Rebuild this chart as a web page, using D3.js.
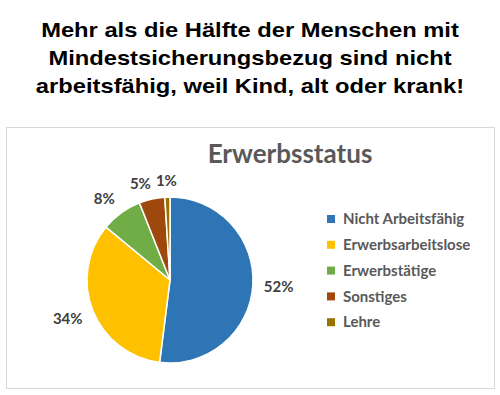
<!DOCTYPE html>
<html>
<head>
<meta charset="utf-8">
<script src="https://cdn.jsdelivr.net/npm/d3@7"></script>
<style>
  body { margin: 0; background: #fff; }
  svg { display: block; }
</style>
</head>
<body>
<div id="chart"></div>
<script>
// data
var categories = ['Nicht Arbeitsfähig', 'Erwerbsarbeitslose', 'Erwerbstätige', 'Sonstiges', 'Lehre'];
var values = [52, 34, 8, 5, 1];
var colors = ['#2E75B6', '#FFC000', '#70AD47', '#9E480E', '#997300'];
var headline = ['Mehr als die Hälfte der Menschen mit',
                'Mindestsicherungsbezug sind nicht',
                'arbeitsfähig, weil Kind, alt oder krank!'];
var chartTitle = 'Erwerbsstatus';

var W = 500, H = 395;
var CX = 170, CY = 280, R = 83;
var LABEL_FONT = 'Lato, "Open Sans", sans-serif';

var svg = d3.select('#chart').append('svg')
  .attr('width', W)
  .attr('height', H);

// headline (the source image is a bit stretched sideways)
svg.append('g')
  .attr('transform', 'translate(250,0) scale(1.13,1)')
  .selectAll('text')
  .data(headline)
  .enter().append('text')
    .attr('x', 0)
    .attr('y', function(d, i) { return 37 + i * 28; })
    .attr('text-anchor', 'middle')
    .attr('font-family', '"Liberation Sans", Arial, sans-serif')
    .attr('font-weight', 'bold')
    .attr('font-size', '21px')
    .attr('fill', '#000')
    .text(function(d) { return d; });

// chart frame
svg.append('rect')
  .attr('x', 6.5)
  .attr('y', 127.5)
  .attr('width', 488)
  .attr('height', 261)
  .attr('fill', '#fff')
  .attr('stroke', '#d9d9d9')
  .attr('stroke-width', 1);

svg.append('text')
  .attr('x', 290)
  .attr('y', 163)
  .attr('text-anchor', 'middle')
  .attr('font-family', LABEL_FONT)
  .attr('font-weight', 'bold')
  .attr('font-size', '26px')
  .attr('fill', '#595959')
  .text(chartTitle);

// pie
var pie = d3.pie().sort(null).value(function(d) { return d; });
var arcs = pie(values);
var arc = d3.arc().innerRadius(0).outerRadius(R);

var g = svg.append('g')
  .attr('transform', 'translate(' + CX + ',' + CY + ')');

g.selectAll('path')
  .data(arcs)
  .enter().append('path')
    .attr('d', arc)
    .attr('fill', function(d, i) { return colors[i]; })
    .attr('stroke', '#fff')
    .attr('stroke-width', 1.5);

// outside-end labels: box touches a point just past the rim
var labels = g.selectAll('text.lbl')
  .data(arcs)
  .enter().append('text')
    .attr('class', 'lbl')
    .attr('dy', '0.35em')
    .attr('text-anchor', 'middle')
    .attr('font-family', LABEL_FONT)
    .attr('font-weight', 'bold')
    .attr('font-size', '15px')
    .attr('fill', '#404040')
    .text(function(d) { return d.data + '%'; });

var GAP = 11, BOX_H = 10;
var pos = [];
labels.each(function(d) {
  var a = (d.startAngle + d.endAngle) / 2;
  var w = this.getComputedTextLength();
  var sx = Math.max(-1, Math.min(1, Math.sin(a) * 2));
  var sy = Math.max(-1, Math.min(1, -Math.cos(a) * 2));
  pos.push({
    x: Math.sin(a) * (R + GAP) + sx * w / 2,
    y: -Math.cos(a) * (R + GAP) + sy * BOX_H / 2,
    w: w
  });
});

// push neighbours apart when they collide (right to left)
for (var i = pos.length - 1; i > 0; i--) {
  var a = pos[i], b = pos[i - 1];
  var need = (a.w + b.w) / 2 + 5;
  if (Math.abs(a.y - b.y) < 14 && a.x - b.x < need) b.x = a.x - need;
}

labels
  .attr('x', function(d, i) { return pos[i].x; })
  .attr('y', function(d, i) { return pos[i].y; });

// legend
var legend = svg.append('g')
  .attr('transform', 'translate(327,219)');

var rows = legend.selectAll('g')
  .data(categories)
  .enter().append('g')
    .attr('transform', function(d, i) { return 'translate(0,' + (i * 25.8) + ')'; });

rows.append('rect')
  .attr('x', 0)
  .attr('y', -4)
  .attr('width', 8)
  .attr('height', 8)
  .attr('fill', function(d, i) { return colors[i]; });

rows.append('text')
  .attr('x', 16)
  .attr('y', 0)
  .attr('dy', '0.35em')
  .attr('font-family', LABEL_FONT)
  .attr('font-weight', 'bold')
  .attr('font-size', '15px')
  .attr('fill', '#595959')
  .text(function(d) { return d; });
</script>
</body>
</html>
